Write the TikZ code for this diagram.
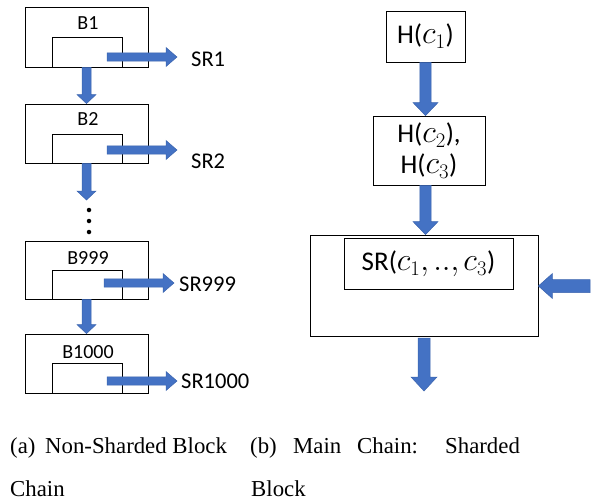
\documentclass[tikz,border=0pt]{standalone}
\usepackage{fontspec}
\newfontfamily\labfont{Carlito}
\newfontfamily\capfont{Liberation Serif}
\usetikzlibrary{calc}
% scalable math italic for large labels
\DeclareFontShape{OML}{cmm}{m}{it}{<-6>cmmi5<6-7>cmmi6<7-8>cmmi7<8-9>cmmi8<9-10>cmmi9<10-12>cmmi10<12->cmmi12}{}
\definecolor{arrowblue}{HTML}{4472C4}
\definecolor{arrowedge}{HTML}{3B64AE}

% large math inside the hash labels
\newcommand\bigmath[1]{{\fontsize{32}{36}\selectfont$#1$}}

% Block arrow from #1 (tail) to #2 (tip):
% #3 shaft half width, #4 head half width, #5 head length
\newcommand\blockarrow[5]{%
  \path ($(#2)!#5!(#1)$) coordinate (ba-head);
  \filldraw[fill=arrowblue, draw=arrowedge, line width=0.5pt, line join=miter]
    ($(#1)!#3!90:(#2)$) -- ($(ba-head)!#3!-90:(#1)$) -- ($(ba-head)!#4!-90:(#1)$)
    -- (#2) -- ($(ba-head)!#4!90:(#1)$) -- ($(ba-head)!#3!90:(#1)$)
    -- ($(#1)!#3!-90:(#2)$) -- cycle;}

\tikzset{
  box/.style={draw=black, line width=0.8pt, rectangle, inner sep=0pt},
  outerblk/.style={box, minimum width=123pt, minimum height=60pt},
  innerblk/.style={box, minimum width=70pt, minimum height=30pt},
  blabel/.style={font=\labfont\fontsize{20}{24}\selectfont, inner sep=0pt},
  srlabel/.style={font=\labfont\fontsize{22.5}{27}\selectfont, inner sep=0pt, anchor=west},
  hlabel/.style={font=\labfont\fontsize{27}{31}\selectfont, align=center},
  caption/.style={font=\capfont\fontsize{22.8}{27}\selectfont, inner sep=0pt, anchor=base west},
  dot/.style={circle, fill=black, inner sep=0pt, minimum size=4.5pt},
}

\begin{document}
\begin{tikzpicture}[x=1pt, y=-1pt]
\useasboundingbox (0,0) rectangle (599,503);

% ---- (a) non-sharded chain ----
\node[outerblk] (b1) at (86.5,37) {};
\node[innerblk] (i1) at (87,52) {};
\node[blabel] (l1) at (88,23) {B1};

\node[outerblk, minimum height=59pt] (b2) at (86.5,133.5) {};
\node[innerblk, minimum height=29pt] (i2) at (87,148.5) {};
\node[blabel] (l2) at (88,119) {B2};

\node[outerblk, minimum height=58pt] (b999) at (86.5,270) {};
\node[innerblk, minimum height=29pt] (i999) at (87,284.5) {};
\node[blabel] (l999) at (88,258) {B999};

\node[outerblk, minimum height=59pt] (b1000) at (86.5,363.5) {};
\node[innerblk, minimum height=30pt] (i1000) at (87,378) {};
\node[blabel] (l1000) at (88,352) {B1000};

% continuation dots
\node[dot] (d1) at (89,210) {};
\node[dot] (d2) at (89,221) {};
\node[dot] (d3) at (89,232) {};
\coordinate (gap) at (86.5,200);

% chain links
\blockarrow{b1.south}{b2.north}{4.5pt}{9.5pt}{9pt}
\blockarrow{b2.south}{gap}{4.5pt}{9.5pt}{9pt}
\blockarrow{b999.south}{b1000.north}{4.5pt}{9.5pt}{9pt}

% state roots
\node[srlabel] (sr1) at (191,59) {SR1};
\node[srlabel] (sr2) at (191,161) {SR2};
\node[srlabel] (sr999) at (179,284) {SR999};
\node[srlabel] (sr1000) at (181,381) {SR1000};

\coordinate (t1) at (107,57);    \coordinate (e1) at (177,57);
\coordinate (t2) at (107,150);   \coordinate (e2) at (177,150);
\coordinate (t999) at (104,283); \coordinate (e999) at (174,283);
\coordinate (t1000) at (107,381);\coordinate (e1000) at (177,381);
\blockarrow{t1}{e1}{4.2pt}{9.5pt}{11pt}
\blockarrow{t2}{e2}{4.2pt}{9.5pt}{11pt}
\blockarrow{t999}{e999}{4.2pt}{9.5pt}{11pt}
\blockarrow{t1000}{e1000}{4.2pt}{9.5pt}{11pt}

% ---- (b) main chain: sharded block ----
\node[box, minimum width=79pt, minimum height=51pt, hlabel] (h1) at (425.5,36.5) {H(\bigmath{c_1})};
\node[box, minimum width=112pt, minimum height=69pt, hlabel, font=\labfont\fontsize{27}{31}\selectfont] (h23) at (429,150.5) {H(\bigmath{c_2}),\\H(\bigmath{c_3})};
\node[box, minimum width=228pt, minimum height=101pt] (big) at (424,285.5) {};
\node[box, minimum width=169pt, minimum height=51pt, hlabel] (sr) at (428.5,263.5) {SR(\bigmath{c_1,..,c_3})};

\blockarrow{h1.south}{h1.south |- h23.north}{5.7pt}{12.5pt}{13pt}
\blockarrow{h1.south |- h23.south}{h1.south |- big.north}{5.7pt}{12.5pt}{13pt}

\coordinate (intail) at (590,286);
\blockarrow{intail}{intail -| big.east}{6.5pt}{12.5pt}{14pt}

\coordinate (outtail) at (424,338);
\coordinate (outtip) at (424,391);
\blockarrow{outtail}{outtip}{6pt}{13pt}{14pt}

% ---- captions ----
\node[caption] (ca) at (10,453) {(a)};
\node[caption] (cb) at (45,453) {Non-Sharded Block};
\node[caption] (cc) at (10,496) {Chain};
\node[caption] (cd) at (250,453) {(b)};
\node[caption] (ce) at (293,453) {Main};
\node[caption] (cf) at (357,453) {Chain:};
\node[caption] (cg) at (445,453) {Sharded};
\node[caption] (ch) at (251,496) {Block};
\end{tikzpicture}
\end{document}
